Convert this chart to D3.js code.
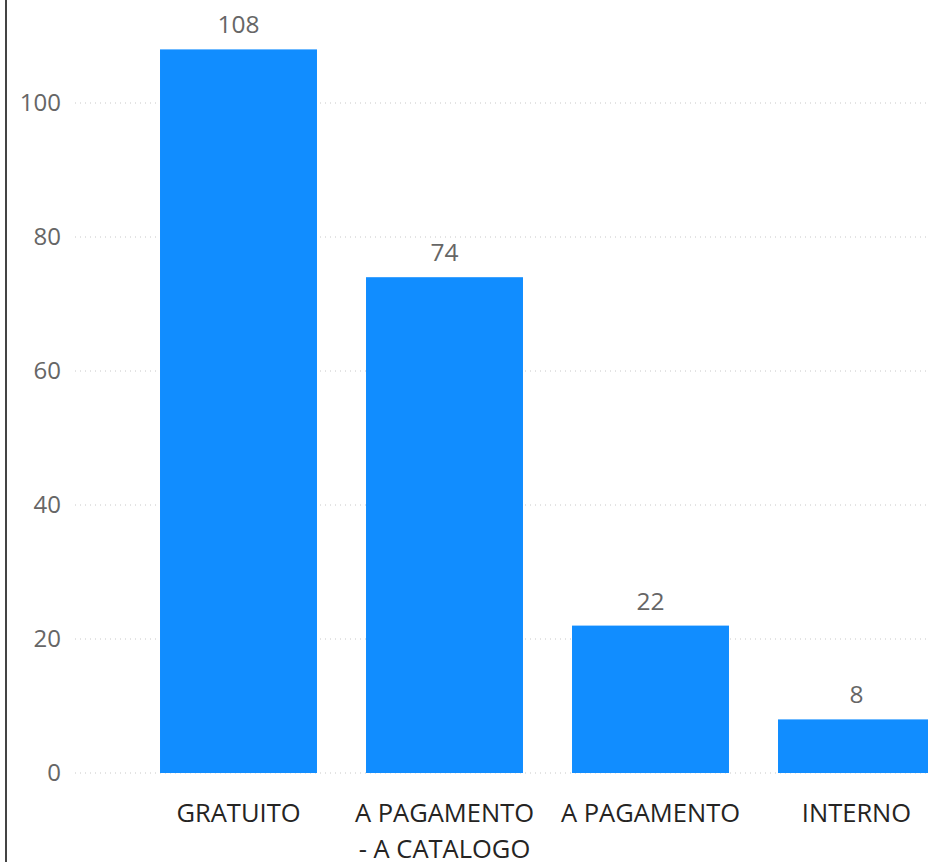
<!DOCTYPE html>
<html>
<head>
<meta charset="utf-8">
<script src="https://cdn.jsdelivr.net/npm/d3@7"></script>
<style>
  body { margin: 0; background: #fff; }
  svg { display: block; font-family: "Segoe UI", "Open Sans", sans-serif; }
</style>
</head>
<body>
<div id="chart"></div>
<script>
// data
const categories = ["GRATUITO", "A PAGAMENTO - A CATALOGO", "A PAGAMENTO", "INTERNO"];
const values = [108, 74, 22, 8];
const yTicks = [0, 20, 40, 60, 80, 100];

const W = 928, H = 862;

const svg = d3.select("#chart").append("svg")
  .attr("width", W)
  .attr("height", H);

// left frame line
svg.append("rect")
  .attr("x", 5).attr("y", 0)
  .attr("width", 2).attr("height", H)
  .attr("fill", "#444");

const x = d3.scaleBand()
  .domain(categories)
  .range([135.5, 959.5])
  .paddingInner(0.238)
  .paddingOuter(0.119);

const y = d3.scaleLinear()
  .domain([0, 100])
  .range([773, 103]);

// gridlines
svg.append("g")
  .selectAll("line")
  .data(yTicks)
  .join("line")
  .attr("x1", 75).attr("x2", W)
  .attr("y1", d => y(d)).attr("y2", d => y(d))
  .attr("stroke", "#c8c8c8")
  .attr("stroke-width", 1)
  .attr("stroke-dasharray", "1,4");

// y tick labels
svg.append("g")
  .selectAll("text")
  .data(yTicks)
  .join("text")
  .attr("x", 61)
  .attr("y", d => y(d))
  .attr("dy", "0.35em")
  .attr("text-anchor", "end")
  .attr("fill", "#666")
  .attr("font-size", 24)
  .text(d => d);

// bars
svg.append("g")
  .selectAll("rect")
  .data(values)
  .join("rect")
  .attr("x", (d, i) => x(categories[i]))
  .attr("y", d => y(d))
  .attr("width", x.bandwidth())
  .attr("height", d => y(0) - y(d))
  .attr("fill", "#118DFF");

// value labels
svg.append("g")
  .selectAll("text")
  .data(values)
  .join("text")
  .attr("x", (d, i) => x(categories[i]) + x.bandwidth() / 2)
  .attr("y", d => y(d) - 16)
  .attr("text-anchor", "middle")
  .attr("fill", "#666")
  .attr("font-size", 24.5)
  .text(d => d);

// category labels, wrapped
function wrapLines(s) {
  if (s.length > 14) {
    const k = s.indexOf(" - ");
    return [s.slice(0, k), s.slice(k + 1)];
  }
  return [s];
}

const xl = svg.append("g")
  .selectAll("text")
  .data(categories)
  .join("text")
  .attr("x", d => x(d) + x.bandwidth() / 2)
  .attr("y", 822)
  .attr("text-anchor", "middle")
  .attr("fill", "#252423")
  .attr("font-size", 25.5);

xl.selectAll("tspan")
  .data(d => wrapLines(d))
  .join("tspan")
  .attr("x", function () { return this.parentNode.getAttribute("x"); })
  .attr("dy", (d, i) => i === 0 ? 0 : 36)
  .text(d => d);
</script>
</body>
</html>
